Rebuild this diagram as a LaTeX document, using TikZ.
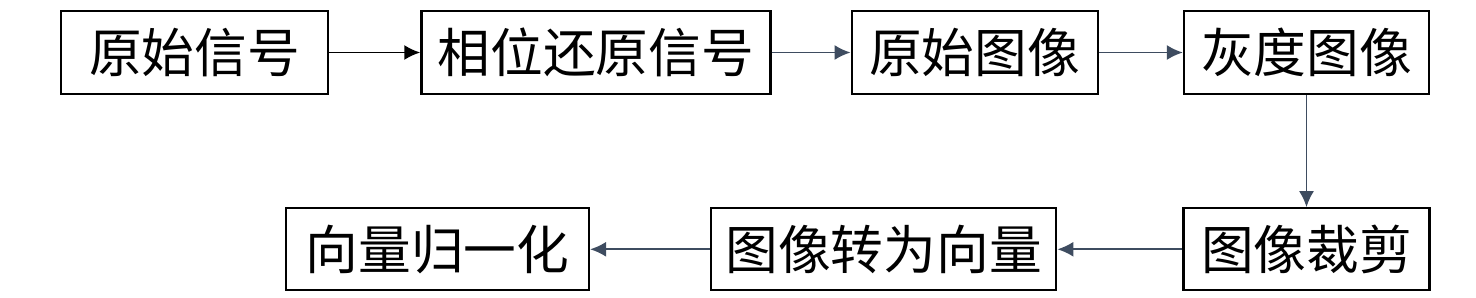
\documentclass[tikz,border=0pt]{standalone}
\usepackage{fontspec}
\newfontfamily\cjk{Noto Sans CJK SC}
\usepackage{xcolor}
\usetikzlibrary{arrows.meta,positioning}
\definecolor{slate}{RGB}{62,76,96}

\begin{document}
\begin{tikzpicture}[
    box/.style={rectangle, draw, line width=1.3pt, minimum height=1.66cm, inner sep=0pt, align=center, font=\cjk\fontsize{30}{30}\selectfont},
    arrow/.style={-{Latex[length=0.32cm,width=0.3cm]}, line width=1.1pt, draw=slate}
]
\useasboundingbox (0,0) rectangle (29.52,-5.94);
\node[box, minimum width=5.34cm, anchor=west] (signal) at (1.2,-1.05) {原始信号};
\node[box, minimum width=6.98cm, right=1.82cm of signal] (phase) {相位还原信号};
\node[box, minimum width=4.92cm, right=1.58cm of phase] (rawimg) {原始图像};
\node[box, minimum width=4.9cm, right=1.68cm of rawimg] (gray) {灰度图像};
\node[box, minimum width=4.92cm, minimum height=1.64cm, below=2.24cm of gray] (crop) {图像裁剪};
\node[box, minimum width=6.9cm, minimum height=1.64cm, left=2.5cm of crop] (tovec) {图像转为向量};
\node[box, minimum width=6.06cm, minimum height=1.64cm, left=2.4cm of tovec] (norm) {向量归一化};

\draw[arrow, draw=black] (signal) -- (phase);
\draw[arrow] (phase) -- (rawimg);
\draw[arrow] (rawimg) -- (gray);
\draw[arrow] (gray) -- (crop);
\draw[arrow] (crop) -- (tovec);
\draw[arrow] (tovec) -- (norm);
\end{tikzpicture}
\end{document}
